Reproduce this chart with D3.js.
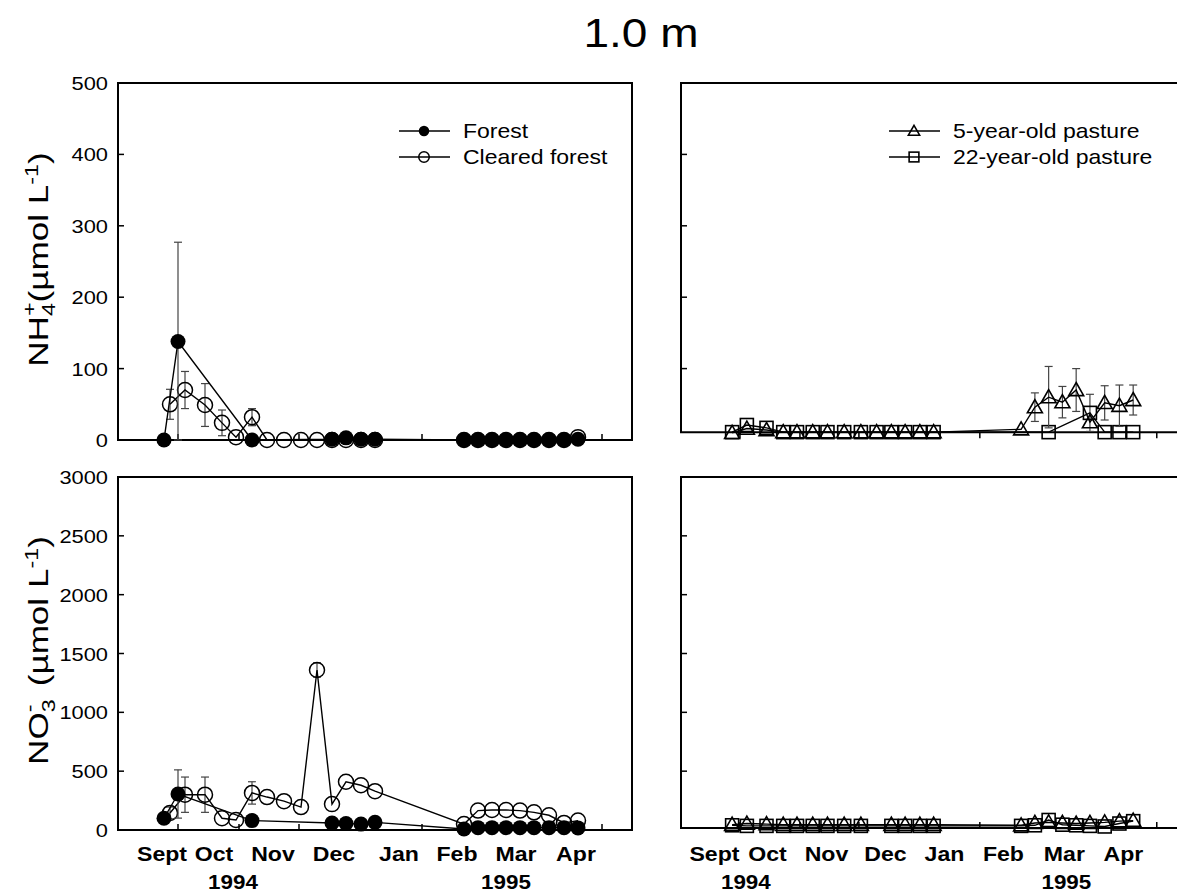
<!DOCTYPE html>
<html><head><meta charset="utf-8">
<script src="https://cdn.jsdelivr.net/npm/d3@7"></script>
<style>body{margin:0;background:#fff}svg{display:block}text{font-family:"Liberation Sans",Arial,sans-serif;fill:#000}</style>
</head><body><svg id="c" width="1177" height="896"></svg>
<script>
// ---- data (day 0 = 1 Sept 1994) ----
const monthLabels = ["Sept","Oct","Nov","Dec","Jan","Feb","Mar","Apr"];
const monthLabelDaysLeft = [22, 48, 77.5, 108, 140.5, 169.5, 199, 229];
const monthLabelDaysRight = [17, 44, 74, 104, 134, 164, 195, 225];
const yearLabels = ["1994","1995"];
const yearLabelDaysLeft = [57.5, 194];
const yearLabelDaysRight = [33, 196];
const xTickDays = [30, 60.5, 90.5, 152, 242];
const nh4Ticks = [0,100,200,300,400,500];
const no3Ticks = [0,500,1000,1500,2000,2500,3000];

const forestDays = [23,30,67,107,114,121.5,128.5,173,180,187,194,201,208,215.5,223,230];
const forestNH4 = [0,138,0,1,3,1,1,0,0,0,0,0,0,0,0,1];
const forestNH4Err = [0,139,0,0,0,0,0,0,0,0,0,0,0,0,0,0];
const forestNO3 = [100,306,80,60,55,50,65,8,20,20,20,20,20,20,20,18];
const forestNO3Err = [0,205,0,0,0,0,0,0,0,0,0,0,0,0,0,0];

const clearedDays = [26,33.5,43.5,52,59,67,74.5,83,91.5,99.5,107,114,121.5,128.5,173,180,187,194,201,208,215.5,223,230];
const clearedNH4 = [50,70,49,24,4,32,0,0,0,0,0,0,0,0,0,0,0,0,0,0,0,0,4];
const clearedNH4Err = [21,26,30,18,0,12,0,0,0,0,0,0,0,0,0,0,0,0,0,0,0,0,0];
const clearedNO3 = [145,300,300,100,85,315,280,245,195,1360,220,410,380,330,50,165,170,170,165,150,125,60,80];
const clearedNO3Err = [50,150,150,0,0,95,0,0,0,60,0,0,0,0,0,0,0,0,0,0,0,0,0];

const p5NH4Days = [26,33.5,43.5,52,59,67,74.5,83,91.5,99.5,107,114,121.5,128.5,173,180,187,194,201,208,215.5,223,230];
const p5NH4 = [10,16,14,11,11,11,11,11,11,11,11,11,11,11,15,46,60,53,70,25,52,48,56];
const p5NH4Err = [0,0,0,0,0,0,0,0,0,0,0,0,0,0,0,20,43,22,30,0,24,29,21];
const p22NH4Days = [26,33.5,43.5,52,59,67,74.5,83,91.5,99.5,107,114,121.5,128.5,187,208,215.5,223,230];
const p22NH4 = [11,21,17,11,11,11,11,11,11,11,11,11,11,11,11,38,11,11,11];
const p22NH4Err = [0,0,0,0,0,0,0,0,0,0,0,0,0,0,0,26,0,0,0];

const pNO3Days = [26,33.5,43.5,52,59,67,74.5,83,91.5,107,114,121.5,128.5,173,180,187,194,201,208,215.5,223,230];
const p5NO3 = [45,55,50,45,45,45,45,45,45,45,45,45,45,40,60,65,60,55,60,65,75,80];
const p22NO3 = [40,35,35,35,35,35,35,35,35,35,35,35,35,35,40,85,45,40,35,30,55,75];

const title = "1.0 m";
const legendLeft = ["Forest","Cleared forest"];
const legendRight = ["5-year-old pasture","22-year-old pasture"];

// ---- layout ----
const svg = d3.select("#c");
const SX = 1.15; // horizontal stretch of lettering in the original
const L = {x0:118, x1:632}, R = {x0:681};
const PT = {y0:83, y1:440}, PB = {y0:477, y1:830};
const xL = d3.scaleLinear().domain([0,257]).range([L.x0, L.x1]);
const xR = d3.scaleLinear().domain([0,257]).range([R.x0, R.x0 + 257*1.966]);
const yTop = d3.scaleLinear().domain([0,500]).range([PT.y1, PT.y0]);
const yBot = d3.scaleLinear().domain([0,3000]).range([PB.y1, PB.y0]);
const rightBaseTop = 11, rightBaseBot = 17;

function stext(x, y, str, size, anchor, weight, sx){
  const g = svg.append("g").attr("transform",`translate(${x},${y}) scale(${sx||SX},1)`);
  return g.append("text").attr("text-anchor",anchor||"start").attr("font-size",size)
    .attr("font-weight",weight||"normal").text(str);
}

// title
stext(641, 47, title, 40, "middle");

// frames
function frameFull(x, y){
  const yr = y.range();
  svg.append("rect").attr("x",x.range()[0]).attr("y",yr[1]).attr("width",x.range()[1]-x.range()[0])
    .attr("height",yr[0]-yr[1]).attr("fill","none").attr("stroke","#000").attr("stroke-width",2);
}
frameFull(xL, yTop);
frameFull(xL, yBot);
function frameRight(y, base){
  svg.append("path").attr("fill","none").attr("stroke","#000").attr("stroke-width",2)
    .attr("d",`M${xR(257)},${y.range()[1]}H${R.x0}V${y(base)}H${xR(257)}`);
}
frameRight(yTop, rightBaseTop);
frameRight(yBot, rightBaseBot);

// y ticks
function yTicks(y, ticks, x0, labels){
  ticks.forEach(t=>{
    if(!labels && (t===ticks[0]||t===ticks[ticks.length-1])) return;
    svg.append("line").attr("x1",x0).attr("x2",x0+6).attr("y1",y(t)).attr("y2",y(t)).attr("stroke","#000").attr("stroke-width",1.5);
    if(labels) stext(x0-10, y(t)+7, String(t), 19, "end");
  });
}
yTicks(yTop, nh4Ticks, L.x0, true);
yTicks(yBot, no3Ticks, L.x0, true);
yTicks(yTop, nh4Ticks, R.x0, false);
yTicks(yBot, no3Ticks, R.x0, false);

// x ticks
function xTicks(x, yb, dir){
  xTickDays.forEach(d=>{
    svg.append("line").attr("x1",x(d)).attr("x2",x(d)).attr("y1",yb).attr("y2",yb+dir*6).attr("stroke","#000").attr("stroke-width",1.5);
  });
}
xTicks(xL, yTop(0), -1);
xTicks(xL, yBot(0), -1);
xTicks(xR, yTop(rightBaseTop), 1);
xTicks(xR, yBot(rightBaseBot), -1);

// month / year labels
[[xL, monthLabelDaysLeft, yearLabelDaysLeft],[xR, monthLabelDaysRight, yearLabelDaysRight]].forEach(([x,md,yd])=>{
  monthLabels.forEach((m,i)=> stext(x(md[i]), 861, m, 21, "middle", "bold", 1.1));
  yearLabels.forEach((m,i)=> stext(x(yd[i]), 889, m, 20, "middle", "bold", 1.12));
});

// y axis titles
function yTitle(cy, parts){
  const g = svg.append("g").attr("transform",`translate(48,${cy}) rotate(-90) scale(1.3,1.05)`);
  const t = g.append("text").attr("text-anchor","middle").attr("font-size",27);
  parts.forEach(p=>{
    const s = t.append("tspan").text(p.t);
    if(p.sz) s.attr("font-size",p.sz);
    if(p.dx) s.attr("dx",p.dx);
    if(p.dy) s.attr("dy",p.dy);
  });
}
yTitle((PT.y0+PT.y1)/2 - 2, [{t:"NH"},{t:"4",sz:18,dy:7},{t:"+",sz:18,dx:-10,dy:-18},{t:"(\u00b5mol L",dy:11},{t:"-1",sz:18,dy:-10},{t:")",dy:10}]);
yTitle((PB.y0+PB.y1)/2 - 3, [{t:"NO"},{t:"3",sz:18,dy:7},{t:"-",sz:18,dx:-10,dy:-18},{t:"(\u00b5mol L",dx:14,dy:11},{t:"-1",sz:18,dy:-10},{t:")",dy:10}]);

// ---- series drawing ----
function drawMarker(g, cx, cy, m, s){
  if(m==="filled") g.append("circle").attr("cx",cx).attr("cy",cy).attr("r",7.5*s).attr("fill","#000");
  else if(m==="open") g.append("circle").attr("cx",cx).attr("cy",cy).attr("r",7.5*s).attr("fill","none").attr("stroke","#000").attr("stroke-width",1.5);
  else if(m==="tri"){ const h=7.5*s; g.append("path").attr("d",`M${cx},${cy-h}L${cx+h},${cy+h*0.75}L${cx-h},${cy+h*0.75}Z`).attr("fill","none").attr("stroke","#000").attr("stroke-width",1.6); }
  else if(m==="sq"){ const h=6.5*s; g.append("rect").attr("x",cx-h).attr("y",cy-h).attr("width",2*h).attr("height",2*h).attr("fill","none").attr("stroke","#000").attr("stroke-width",1.6); }
}
function series(x, y, days, vals, errs, marker){
  const g = svg.append("g");
  const pts = days.map((d,i)=>({x:x(d), y:y(vals[i]), e:errs?errs[i]:0, v:vals[i]}));
  pts.forEach(p=>{
    if(!p.e) return;
    const yt = y(p.v+p.e), yb = y(Math.max(0,p.v-p.e));
    g.append("line").attr("x1",p.x).attr("x2",p.x).attr("y1",yt).attr("y2",yb).attr("stroke","#444").attr("stroke-width",1.2);
    [yt,yb].forEach(yy=> g.append("line").attr("x1",p.x-4).attr("x2",p.x+4).attr("y1",yy).attr("y2",yy).attr("stroke","#444").attr("stroke-width",1.2));
  });
  g.append("path").attr("d", d3.line().x(p=>p.x).y(p=>p.y)(pts)).attr("fill","none").attr("stroke","#000").attr("stroke-width",1.4);
  pts.forEach(p=> drawMarker(g, p.x, p.y, marker, 1));
}

series(xL, yTop, clearedDays, clearedNH4, clearedNH4Err, "open");
series(xL, yTop, forestDays, forestNH4, forestNH4Err, "filled");
series(xL, yBot, clearedDays, clearedNO3, clearedNO3Err, "open");
series(xL, yBot, forestDays, forestNO3, forestNO3Err, "filled");
series(xR, yTop, p22NH4Days, p22NH4, p22NH4Err, "sq");
series(xR, yTop, p5NH4Days, p5NH4, p5NH4Err, "tri");
series(xR, yBot, pNO3Days, p22NO3, null, "sq");
series(xR, yBot, pNO3Days, p5NO3, null, "tri");

// ---- legends ----
function legend(x0, names, markers, scale){
  const rows = [131, 157];
  names.forEach((n,i)=>{
    const g = svg.append("g");
    g.append("line").attr("x1",x0).attr("x2",x0+51).attr("y1",rows[i]).attr("y2",rows[i]).attr("stroke","#000").attr("stroke-width",1.5);
    drawMarker(g, x0+25, rows[i], markers[i], scale);
    stext(x0+64, rows[i]+7, n, 20, "start");
  });
}
legend(399, legendLeft, ["filled","open"], 0.7);
legend(889, legendRight, ["tri","sq"], 0.75);
</script></body></html>
